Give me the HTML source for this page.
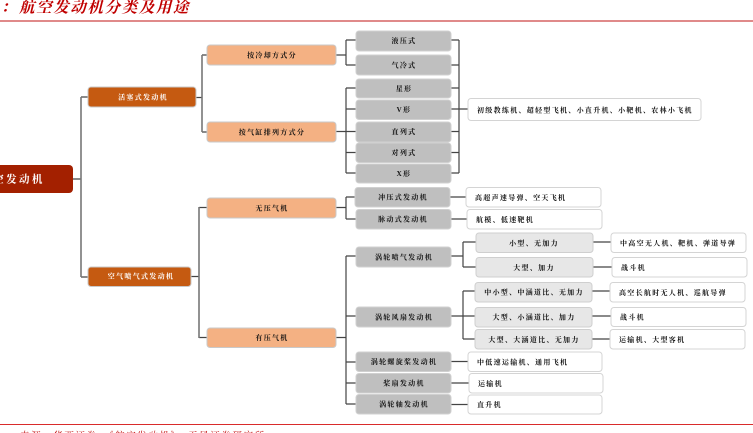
<!DOCTYPE html>
<html lang="zh">
<head>
<meta charset="utf-8">
<style>
html,body{margin:0;padding:0;background:#fff;width:753px;height:433px;overflow:hidden}
svg{display:block;filter:blur(0.35px)}
text{font-family:"Liberation Serif","Noto Serif CJK SC",serif;text-anchor:middle;dominant-baseline:central}
.t{font-size:7px;font-weight:700;fill:#111;letter-spacing:1.3px}
.w{font-size:7px;font-weight:700;fill:#fff;letter-spacing:1.3px}
.l{font-size:7px;font-weight:700;fill:#111;letter-spacing:1.3px;text-anchor:start}
.or{fill:#f4b183;stroke:#c9c9c9;stroke-width:1}
.br{fill:#c55a11;stroke:#c9c9c9;stroke-width:1}
.gr{fill:#bfbfbf;stroke:#d0d0d0;stroke-width:1}
.lg{fill:#e7e7e7;stroke:#cfcfcf;stroke-width:1}
.wh{fill:#fff;stroke:#d4d4d4;stroke-width:1}
.c{stroke:#444;stroke-width:1.2;fill:none}
.v{stroke:#777;stroke-width:1.6;fill:none}
</style>
</head>
<body>
<svg width="753" height="433" viewBox="0 0 753 433" xmlns="http://www.w3.org/2000/svg">
<text x="1" y="8" style="font-size:15px;fill:#c00000;font-style:italic;text-anchor:start;font-weight:700">：</text>
<text x="19" y="8" style="font-size:15.5px;fill:#c00000;font-style:italic;font-weight:700;text-anchor:start;letter-spacing:1.6px">航空发动机分类及用途</text>
<rect x="0" y="20" width="753" height="2" fill="#e08a8a"/>

<path class="c" d="M73 179H81M81 277H88M81 97H88M196 97.500H202M202 55H207M202 132H207M191 276.500H199M199 207.500H207M199 337.500H207"/>
<path class="v" d="M81 97V277M202 55V132M199 207V338"/>
<path class="c" d="M336 55H346M346 40V65M346 40H356M346 65H356
M336 131.500H346M346 88V173M346 88H356M346 109H356M346 131.500H356M346 152.500H356M346 173H356
M451 40H459M451 65H459M451 88H459M451 109H468M451 131.500H459M451 152.500H459M451 173H459M459 40V173
M336 207.500H346M346 197V219M346 197H355M346 219H356
M336 337.500H346M346 256V404M346 256H356M346 316H356M346 362H356M346 383H356M346 404H356
M450 197H466M451 219H467
M451 256H463M463 242V267M463 242H476M463 267H476
M451 316H463M463 291V339M463 291H475M463 316H475M463 339H475
M593 242H611M593 267H612M592 291H610M592 316H611M592 339H610
M451 361.500H468M451 383H469M451 404.500H468"/>

<rect x="-20" y="165" width="93" height="28" rx="4" fill="#a32000"/>
<text x="19" y="180" style="font-size:10.500px;fill:#fff;font-weight:700;letter-spacing:2.4px">空发动机</text>

<rect class="br" x="88" y="87" width="108" height="20" rx="3"/><text class="w" x="143" y="97.500">活塞式发动机</text>
<rect class="br" x="88" y="267" width="103" height="19.500" rx="3"/><text class="w" x="141" y="276.500">空气喷气式发动机</text>

<rect class="or" x="207" y="45" width="129" height="20" rx="3"/><text class="t" x="272" y="55.500">按冷却方式分</text>
<rect class="or" x="207" y="122" width="129" height="20" rx="3"/><text class="t" x="272" y="132.500">按气缸排列方式分</text>
<rect class="or" x="207" y="198" width="129" height="20" rx="3"/><text class="t" x="272" y="208.500">无压气机</text>
<rect class="or" x="207" y="328" width="129" height="19.500" rx="3"/><text class="t" x="272" y="338">有压气机</text>

<rect class="gr" x="356" y="31" width="95" height="20" rx="3"/><text class="t" x="404" y="41">液压式</text>
<rect class="gr" x="356" y="55" width="95" height="20" rx="3"/><text class="t" x="404" y="65.500">气冷式</text>
<rect class="gr" x="356" y="79" width="95" height="19" rx="3"/><text class="t" x="404" y="89">星形</text>
<rect class="gr" x="356" y="100" width="95" height="19.500" rx="3"/><text class="t" x="404" y="110">V形</text>
<rect class="gr" x="356" y="122" width="95" height="20" rx="3"/><text class="t" x="404" y="132">直列式</text>
<rect class="gr" x="356" y="143" width="95" height="19.500" rx="3"/><text class="t" x="404" y="153">对列式</text>
<rect class="gr" x="356" y="164" width="95" height="19" rx="3"/><text class="t" x="404" y="174">X形</text>
<rect class="gr" x="355" y="187.500" width="95" height="19.500" rx="3"/><text class="t" x="403" y="197.500">冲压式发动机</text>
<rect class="gr" x="356" y="209.500" width="95" height="19.500" rx="3"/><text class="t" x="403" y="219.500">脉动式发动机</text>
<rect class="gr" x="356" y="247" width="95" height="20" rx="3"/><text class="t" x="404" y="257.500">涡轮喷气发动机</text>
<rect class="gr" x="356" y="307" width="95" height="20" rx="3"/><text class="t" x="404" y="317.500">涡轮风扇发动机</text>
<rect class="gr" x="356" y="352" width="95" height="19.500" rx="3"/><text class="t" x="404" y="362">涡轮螺旋桨发动机</text>
<rect class="gr" x="356" y="373.500" width="95" height="19.500" rx="3"/><text class="t" x="404" y="383.500">桨扇发动机</text>
<rect class="gr" x="356" y="394.500" width="95" height="19.500" rx="3"/><text class="t" x="404" y="404.500">涡轮轴发动机</text>

<rect class="lg" x="476" y="233" width="117" height="19.500" rx="3"/><text class="t" x="534" y="243.500">小型、无加力</text>
<rect class="lg" x="476" y="257.500" width="117" height="19.500" rx="3"/><text class="t" x="534" y="268">大型、加力</text>
<rect class="lg" x="475" y="282.500" width="117" height="19.500" rx="3"/><text class="t" x="534" y="292.500">中小型、中涵道比、无加力</text>
<rect class="lg" x="475" y="307.500" width="117" height="19.500" rx="3"/><text class="t" x="534" y="317.500">大型、小涵道比、加力</text>
<rect class="lg" x="475" y="329.500" width="117" height="19.500" rx="3"/><text class="t" x="534" y="340">大型、大涵道比、无加力</text>

<rect class="wh" x="468" y="98.500" width="233" height="22" rx="3"/><text class="l" x="477" y="110.500">初级教练机、超轻型飞机、小直升机、小靶机、农林小飞机</text>
<rect class="wh" x="466" y="187.500" width="135" height="19.500" rx="3"/><text class="l" x="475" y="198">高超声速导弹、空天飞机</text>
<rect class="wh" x="467" y="209.500" width="135" height="19.500" rx="3"/><text class="l" x="476" y="220">航模、低速靶机</text>
<rect class="wh" x="611" y="233" width="135" height="19.500" rx="3"/><text class="l" x="620" y="243.500">中高空无人机、靶机、弹道导弹</text>
<rect class="wh" x="612" y="257.500" width="135" height="19.500" rx="3"/><text class="l" x="621" y="268">战斗机</text>
<rect class="wh" x="610" y="282.500" width="135" height="19.500" rx="3"/><text class="l" x="619" y="293">高空长航时无人机、巡航导弹</text>
<rect class="wh" x="611" y="307.500" width="135" height="19" rx="3"/><text class="l" x="620" y="317.500">战斗机</text>
<rect class="wh" x="610" y="329.500" width="135" height="19.500" rx="3"/><text class="l" x="619" y="340">运输机、大型客机</text>
<rect class="wh" x="468" y="352" width="134" height="19.500" rx="3"/><text class="l" x="477" y="362.500">中低速运输机、通用飞机</text>
<rect class="wh" x="469" y="373.500" width="134" height="19.500" rx="3"/><text class="l" x="478" y="384">运输机</text>
<rect class="wh" x="468" y="395" width="134" height="19" rx="3"/><text class="l" x="477" y="405">直升机</text>

<rect x="0" y="424" width="753" height="1" fill="#d92b2b"/>
<text x="20" y="437" style="font-size:9.500px;fill:#c00000;text-anchor:start;letter-spacing:1.600px">来源：华西证券，《航空发动机》，天风证券研究所</text>
</svg>
</body>
</html>
